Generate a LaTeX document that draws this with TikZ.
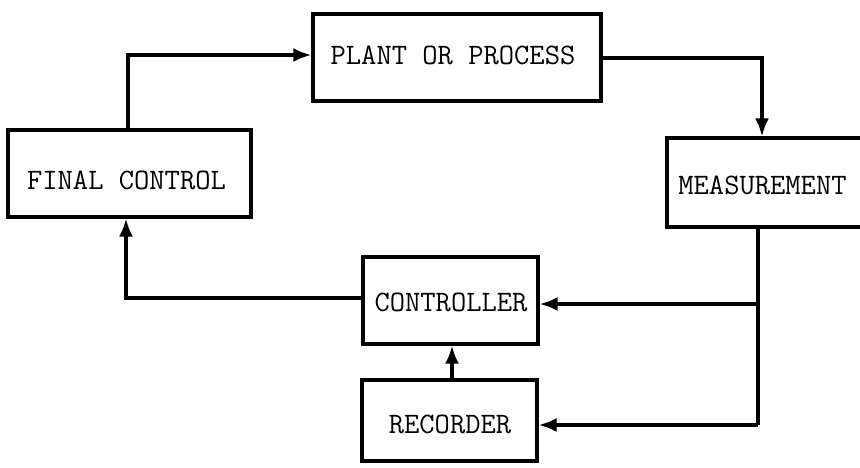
\documentclass[tikz,border=0pt]{standalone}
\usepackage{fontspec}
\usetikzlibrary{arrows.meta}
\tikzset{
  blk/.style={draw=black, line width=3.2pt, rectangle, inner sep=0pt},
  lbl/.style={inner sep=0pt, anchor=center, font=\fontsize{29.7}{30}\selectfont\ttfamily},
  conn/.style={line width=3.2pt, line join=miter, -{Latex[length=18pt,width=14pt]}},
  wire/.style={line width=3.2pt}
}
\begin{document}
\begin{tikzpicture}[x=1pt,y=-1pt]
\clip (0,0) rectangle (860,467);
\fill[white] (0,0) rectangle (860,467);
% boxes
\node[blk, minimum width=288pt, minimum height=87pt] (plant) at (457,57.5) {};
\node[blk, minimum width=243pt, minimum height=87pt] (final) at (129.5,173.5) {};
\node[blk, minimum width=213pt, minimum height=89pt] (meas) at (773.5,182.5) {};
\node[blk, minimum width=175pt, minimum height=87pt] (ctrl) at (450.5,300.5) {};
\node[blk, minimum width=175pt, minimum height=81pt] (rec) at (449.5,420.5) {};
% labels
\node[lbl] (tplant) at (453,55) {PLANT OR PROCESS};
\node[lbl] (tfinal) at (126.5,180) {FINAL CONTROL};
\node[lbl] (tmeas) at (762.5,185) {MEASUREMENT};
\node[lbl] (tctrl) at (451,302) {CONTROLLER};
\node[lbl] (trec) at (450,424) {RECORDER};
% bend points
\coordinate (fc1) at (128,55);
\coordinate (pp1) at (762,58);
\coordinate (mb) at (758,227);
\coordinate (br) at (758,304);
\coordinate (rb) at (758,425);
\coordinate (cb) at (126,298);
% connectors
\draw[conn] (final.north -| fc1) -- (fc1) -- (plant.west |- fc1);
\draw[conn] (plant.east |- pp1) -- (pp1) -- (meas.north -| pp1);
\draw[wire] (mb) -- (rb);
\draw[conn] (rb) -- (rec.east |- rb);
\draw[conn] (br) -- (ctrl.east |- br);
\draw[conn] (ctrl.west |- cb) -- (cb) -- (final.south -| cb);
\draw[conn] (rec.north -| 452,0) -- (ctrl.south -| 452,0);
\end{tikzpicture}
\end{document}
